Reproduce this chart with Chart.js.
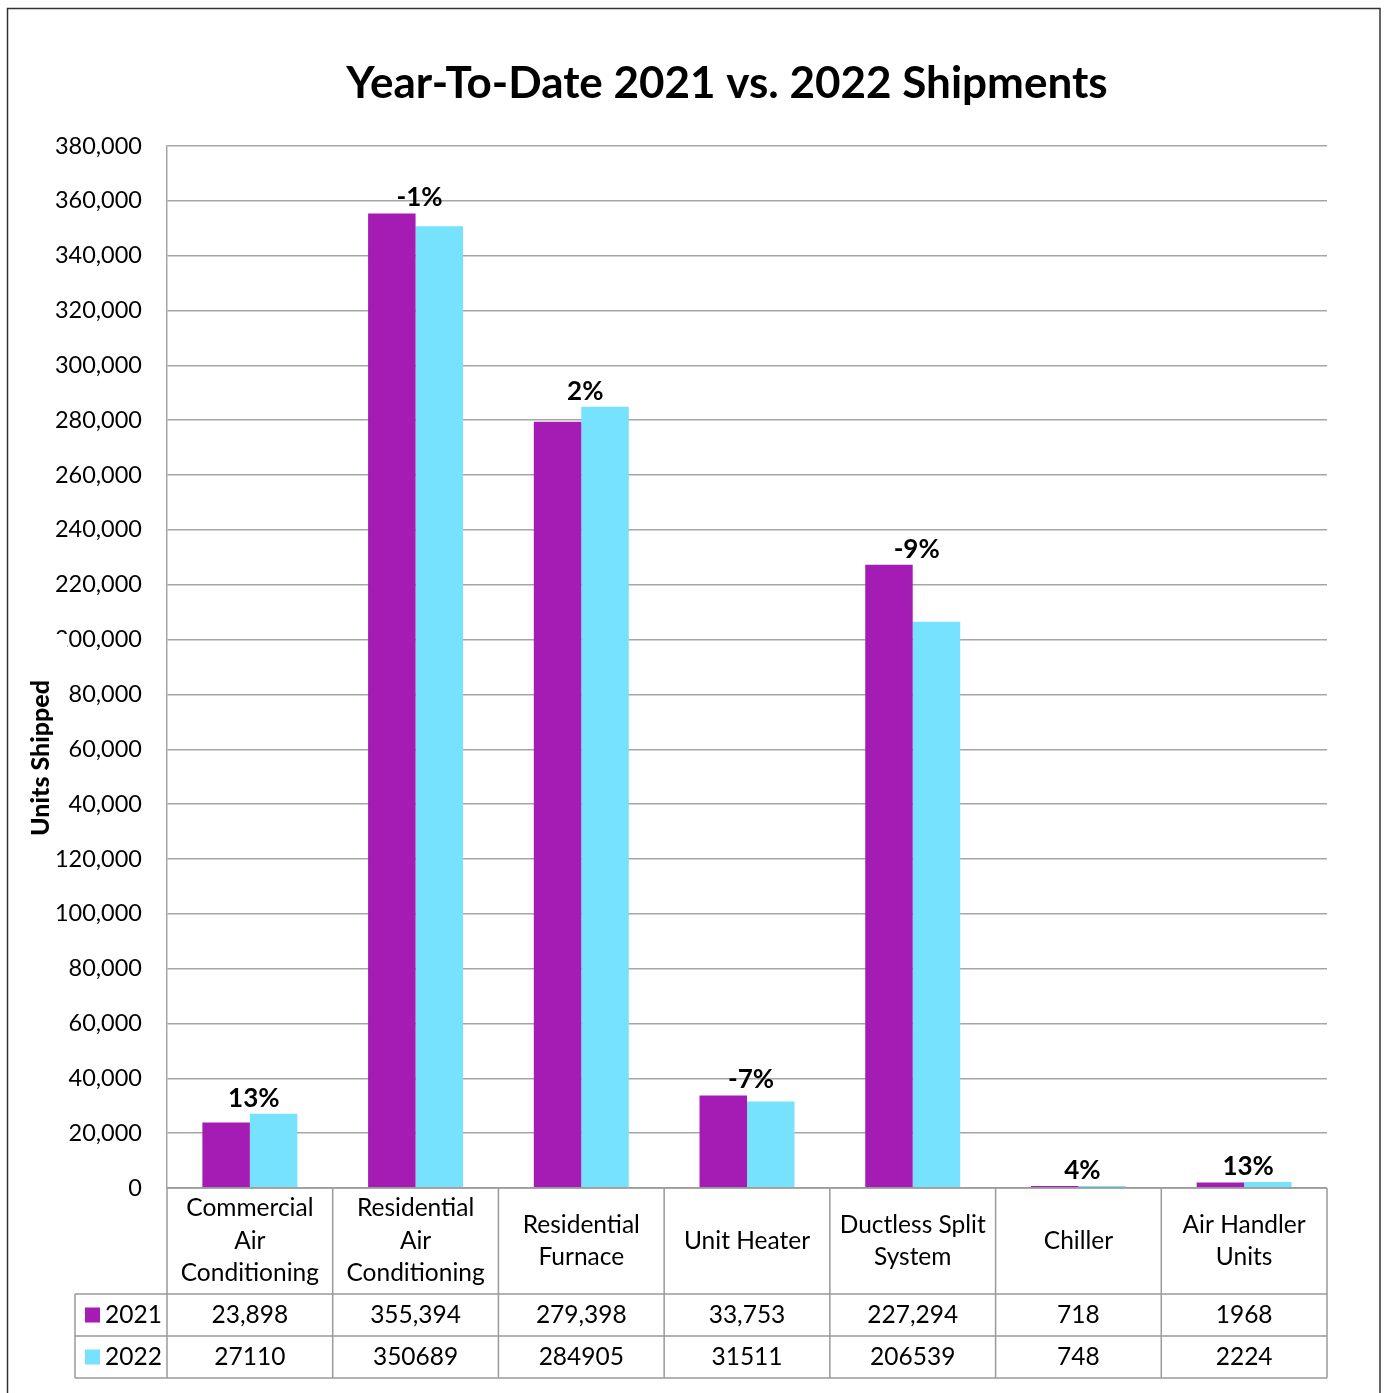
<!DOCTYPE html>
<html>
<head>
<meta charset="utf-8">
<title>Year-To-Date 2021 vs. 2022 Shipments</title>
<script src="https://cdn.jsdelivr.net/npm/chart.js@4.4.1/dist/chart.umd.min.js"></script>
<style>
  body { margin: 0; background: #fff; }
  canvas { display: block; }
</style>
</head>
<body>
<canvas id="shipmentsChart" width="1385" height="1393"></canvas>
<script>
// categorias (quebradas em linhas como na tabela)
const categories = [
    ['Commercial', 'Air', 'Conditioning'],
    ['Residential', 'Air', 'Conditioning'],
    ['Residential', 'Furnace'],
    ['Unit Heater'],
    ['Ductless Split', 'System'],
    ['Chiller'],
    ['Air Handler', 'Units']
];

// valores de cada ano
const series2021 = [23898, 355394, 279398, 33753, 227294, 718, 1968];
const series2022 = [27110, 350689, 284905, 31511, 206539, 748, 2224];

// texto da tabela de dados (formatado como no original)
const table2021 = ['23,898', '355,394', '279,398', '33,753', '227,294', '718', '1968'];
const table2022 = ['27110', '350689', '284905', '31511', '206539', '748', '2224'];

// variação percentual acima de cada grupo
const changeLabels = ['13%', '-1%', '2%', '-7%', '-9%', '4%', '13%'];

// eixo y
const yMin = 0;
const yMax = 380000;
const yStep = 20000;

const color2021 = '#a51cb5';
const color2022 = '#76e2fd';
const gridColor = '#a6a6a6';
const fontFamily = 'Lato, "Open Sans", sans-serif';

// desenha titulo, rotulos de %, titulo do eixo e tabela de dados
const extrasPlugin = {
    id: 'extras',
    afterDatasetsDraw(chart) {
        const ctx = chart.ctx;
        const x = chart.scales.x;
        const y = chart.scales.y;
        ctx.save();
        ctx.fillStyle = '#000';
        ctx.font = 'bold 26px ' + fontFamily;
        ctx.textAlign = 'center';
        ctx.textBaseline = 'alphabetic';
        changeLabels.forEach((lbl, i) => {
            const top = y.getPixelForValue(Math.max(series2021[i], series2022[i]));
            ctx.fillText(lbl, x.getPixelForValue(i) + 4, top - 7);
        });
        ctx.restore();
    },
    afterDraw(chart) {
        const ctx = chart.ctx;
        const area = chart.chartArea;
        ctx.save();

        // titulo
        ctx.fillStyle = '#000';
        ctx.font = 'bold 44px ' + fontFamily;
        ctx.textAlign = 'center';
        ctx.textBaseline = 'middle';
        ctx.fillText('Year-To-Date 2021 vs. 2022 Shipments', 727, 84);

        // titulo do eixo y (com fundo branco por cima dos rotulos)
        ctx.fillStyle = '#fff';
        ctx.fillRect(22, 634, 45, 212);
        ctx.translate(41, 758);
        ctx.rotate(-Math.PI / 2);
        ctx.fillStyle = '#000';
        ctx.font = '900 25px ' + fontFamily;
        ctx.fillText('Units Shipped', 0, 0);
        ctx.setTransform(1, 0, 0, 1, 0, 0);

        // tabela de dados
        const n = categories.length;
        const colW = (area.right - area.left) / n;
        const headTop = area.bottom;
        const headBottom = area.bottom + 106;
        const row1 = headBottom + 42;
        const row2 = row1 + 42;
        const tableLeft = 75;

        ctx.strokeStyle = '#9a9a9a';
        ctx.lineWidth = 1.5;
        ctx.beginPath();
        for (let k = 0; k <= n; k++) {
            const xx = area.left + k * colW;
            ctx.moveTo(xx, headTop);
            ctx.lineTo(xx, row2);
        }
        ctx.moveTo(area.left, headTop);
        ctx.lineTo(area.right, headTop);
        [headBottom, row1, row2].forEach(yy => {
            ctx.moveTo(tableLeft, yy);
            ctx.lineTo(area.right, yy);
        });
        ctx.moveTo(tableLeft, headBottom);
        ctx.lineTo(tableLeft, row2);
        ctx.stroke();

        ctx.fillStyle = '#000';
        ctx.font = '24.5px ' + fontFamily;
        ctx.textAlign = 'center';
        ctx.textBaseline = 'middle';
        const headMid = (headTop + headBottom) / 2;
        categories.forEach((lines, i) => {
            const cx = area.left + (i + 0.5) * colW;
            lines.forEach((line, j) => {
                ctx.fillText(line, cx, headMid + (j - (lines.length - 1) / 2) * 32.5);
            });
            ctx.fillText(table2021[i], cx, (headBottom + row1) / 2);
            ctx.fillText(table2022[i], cx, (row1 + row2) / 2);
        });

        // legenda nas linhas da tabela
        ctx.textAlign = 'left';
        [['2021', color2021, (headBottom + row1) / 2], ['2022', color2022, (row1 + row2) / 2]].forEach(r => {
            ctx.fillStyle = r[1];
            ctx.fillRect(85, r[2] - 7.5, 15, 15);
            ctx.fillStyle = '#000';
            ctx.fillText(r[0], 105, r[2]);
        });

        // moldura externa
        ctx.strokeStyle = '#333';
        ctx.lineWidth = 1.5;
        ctx.strokeRect(7.5, 8.5, 1372.5, 1400);
        ctx.restore();
    }
};

var ctx = document.getElementById('shipmentsChart').getContext('2d');
var chart = new Chart(ctx, {
    type: 'bar',
    data: {
        labels: categories.map(c => c.join(' ')),
        datasets: [{
            label: '2021',
            data: series2021,
            backgroundColor: color2021
        }, {
            label: '2022',
            data: series2022,
            backgroundColor: color2022
        }]
    },
    options: {
        responsive: false,
        animation: false,
        devicePixelRatio: 1,
        layout: {
            padding: { top: 146, bottom: 205, left: 0, right: 58 }
        },
        plugins: {
            legend: { display: false },
            title: { display: false },
            tooltip: { enabled: false }
        },
        datasets: {
            bar: {
                categoryPercentage: 0.573,
                barPercentage: 1
            }
        },
        scales: {
            x: {
                display: false
            },
            y: {
                min: yMin,
                max: yMax,
                ticks: {
                    stepSize: yStep,
                    padding: 25,
                    color: '#000',
                    font: { family: fontFamily, size: 23.5 },
                    callback: v => v.toLocaleString('en-US')
                },
                grid: {
                    color: gridColor,
                    lineWidth: 1.5,
                    drawTicks: false
                },
                border: {
                    display: true,
                    color: gridColor,
                    width: 1.5
                },
                afterFit: scale => { scale.width = 167; }
            }
        }
    },
    plugins: [extrasPlugin]
});
</script>
</body>
</html>
